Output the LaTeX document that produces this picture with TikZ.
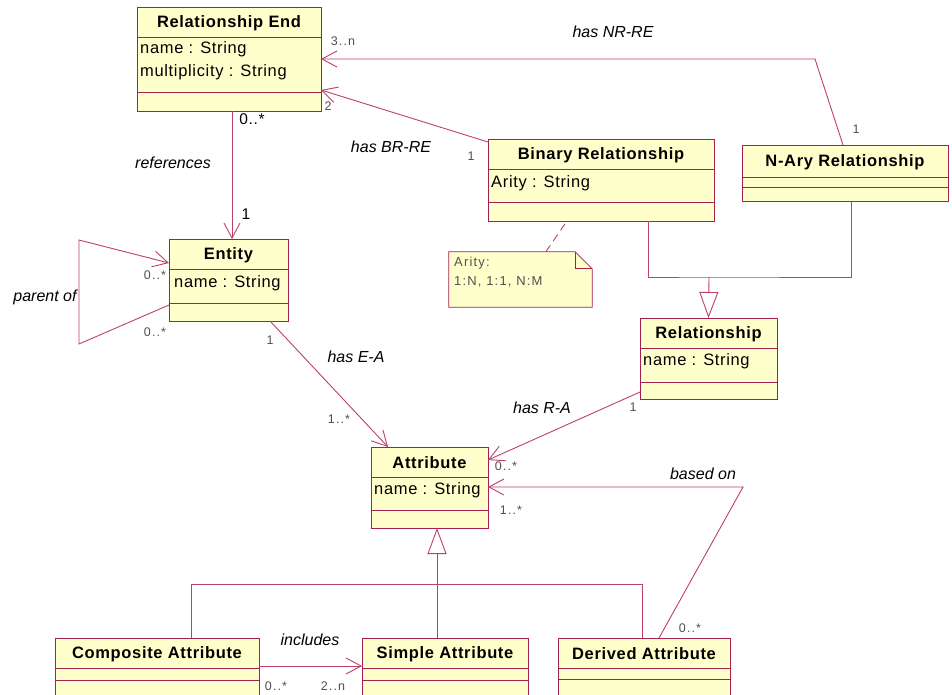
\documentclass[tikz,border=0pt]{standalone}
\usepackage{fontspec}
\setmainfont{Liberation Sans}
\newfontfamily\umlfont{Liberation Sans}[LetterSpace=4]
\newfontfamily\smallfont{Liberation Sans}[LetterSpace=9]
\usetikzlibrary{arrows.meta}

\definecolor{umlfill}{HTML}{FFFFCC}
\definecolor{umlline}{HTML}{A3204F}
\definecolor{assocline}{HTML}{BF3F6C}
\definecolor{multgray}{HTML}{505050}

\tikzset{
  clsbox/.style={draw=umlline, fill=umlfill, line width=1pt, inner sep=0pt, outer sep=0pt, rectangle},
  divider/.style={draw=umlline, line width=1pt},
  ctitle/.style={font=\umlfont\fontsize{16.5}{19}\selectfont\bfseries, inner sep=0pt},
  cattr/.style={font=\umlfont\fontsize{16.5}{19}\selectfont, inner sep=0pt, anchor=west},
  assoc/.style={draw=assocline, line width=0.9pt},
  nav/.style={assoc, -{Straight Barb[length=15pt,width=16pt,line width=0.9pt]}},
  gen/.style={assoc, -{Triangle[open,length=26pt,width=19pt,line width=0.9pt,fill=white]}},
  role/.style={font=\fontsize{16}{18}\selectfont\itshape, inner sep=0pt},
  mult/.style={font=\smallfont\fontsize{12.5}{14}\selectfont, text=multgray, inner sep=0pt},
  bigmult/.style={font=\umlfont\fontsize{15.5}{17}\selectfont, inner sep=0pt},
  notetext/.style={font=\smallfont\fontsize{13}{15}\selectfont, text=multgray, inner sep=0pt, anchor=west},
}

% UML class: name, left, top, right, bottom, first divider, second divider, title
\newcommand\umlclass[8]{%
  \node[clsbox, minimum width={(#4-#2)*1pt}, minimum height={(#5-#3)*1pt}]
    (#1) at ({(#2+#4)/2},{(#3+#5)/2}) {};
  \draw[divider] (#2,#6) -- (#4,#6) (#2,#7) -- (#4,#7);
  \node[ctitle] (#1-title) at ({(#2+#4)/2},{(#3+#6)/2+1}) {#8};
}

\begin{document}
\begin{tikzpicture}[x=1pt, y=-1pt]
\useasboundingbox (0,0) rectangle (952,694);
\fill[white] (0,0) rectangle (952,694);

% classes
\umlclass{re}{137}{7}{321}{111}{37}{92}{Relationship End}
\node[cattr] at (140,49) {name : String};
\node[cattr] at (140,72) {multiplicity : String};

\umlclass{entity}{169}{239}{288}{321}{269}{303}{Entity}
\node[cattr] at (174,283) {name : String};

\umlclass{binary}{488}{139}{714}{221}{169}{202}{Binary Relationship}
\node[cattr] at (491,183) {Arity : String};

\umlclass{nary}{742}{145}{948}{201}{177}{187}{N-Ary Relationship}

\umlclass{rel}{640}{318}{777}{399}{348}{382}{Relationship}
\node[cattr] at (643,361) {name : String};

\umlclass{attr}{371}{447}{488}{528}{477}{510}{Attribute}
\node[cattr] at (374,490) {name : String};

\umlclass{comp}{55}{638}{259}{700}{668}{680}{Composite Attribute}
\umlclass{simple}{362}{638}{528}{700}{668}{680}{Simple Attribute}
\umlclass{derived}{558}{638}{730}{700}{668}{679}{Derived Attribute}

% note attached to Binary Relationship
\node[minimum width=143pt, minimum height=55pt, inner sep=0pt] (note) at (520.5,279.5) {};
\draw[divider, fill=umlfill, line width=0.8pt]
  (note.north west) -- ([xshift=-17pt]note.north east) -- ([yshift=-17pt]note.north east)
  -- (note.south east) -- (note.south west) -- cycle;
\draw[divider, line width=0.8pt]
  ([xshift=-17pt]note.north east) -- ([xshift=-17pt,yshift=-17pt]note.north east)
  -- ([yshift=-17pt]note.north east);
\node[notetext] at (454,263) {Arity:};
\node[notetext] at (454,282) {1:N, 1:1, N:M};
\draw[assoc, dash pattern=on 8pt off 5pt] ([xshift=97pt]note.north west) -- ([xshift=79pt]binary.south west);

% associations
\coordinate (nrbend) at (815,59);
\draw[nav] ([xshift=101pt]nary.north west) -- (nrbend) -- (re.east);
\draw[nav] ([yshift=-3pt]binary.north west) -- ([yshift=21pt]re.south east);
\draw[nav] ([xshift=3pt]re.south) -- ([xshift=3pt]re.south |- entity.north);

\coordinate (ptop) at (79,240);
\coordinate (pbot) at (79,344);
\draw[nav] ([yshift=16pt]entity.south west) -- (pbot) -- (ptop) -- ([yshift=-24pt]entity.north west);

\draw[nav] ([xshift=101pt]entity.south west) -- ([xshift=17pt]attr.north west);
\draw[nav] ([yshift=7pt]rel.south west) -- ([yshift=-13pt]attr.north east);

\coordinate (basedbend) at (743,487);
\draw[nav] ([xshift=101pt]derived.north west) -- (basedbend) -- ([yshift=-40pt]attr.north east);

\draw[nav] ([yshift=-28pt]comp.north east) -- ([yshift=-28pt]simple.north west);

% generalizations
\coordinate (relgen) at (709,277);
\draw[assoc] ([xshift=160pt]binary.south west) |- (relgen) -| ([xshift=109pt]nary.south west);
\draw[gen] (relgen) -- (rel.north);

\coordinate (attrgen) at (437,584);
\draw[assoc] ([xshift=136pt]comp.north west) |- (attrgen) -| ([xshift=84pt]derived.north west);
\draw[gen] ([xshift=75pt]simple.north west) -- ([xshift=66pt]attr.south west);

% role names
\node[role] at (613,32) {has NR-RE};
\node[role] at (391,147) {has BR-RE};
\node[role] at (173,163) {references};
\node[role] at (45,297) {parent of};
\node[role] at (356,357) {has E-A};
\node[role] at (542,408) {has R-A};
\node[role] at (703,474) {based on};
\node[role] at (310,640) {includes};

% multiplicities
\node[mult] at (343,41) {3..n};
\node[mult] at (328,106) {2};
\node[mult] at (471,156) {1};
\node[mult] at (856,129) {1};
\node[bigmult] at (252,119) {0..*};
\node[bigmult] at (246,214) {1};
\node[mult] at (155,275) {0..*};
\node[mult] at (155,332) {0..*};
\node[mult] at (270,340) {1};
\node[mult] at (339,419) {1..*};
\node[mult] at (633,407) {1};
\node[mult] at (506,466) {0..*};
\node[mult] at (511,510) {1..*};
\node[mult] at (690,628) {0..*};
\node[mult] at (276,686) {0..*};
\node[mult] at (333,686) {2..n};
\end{tikzpicture}
\end{document}
